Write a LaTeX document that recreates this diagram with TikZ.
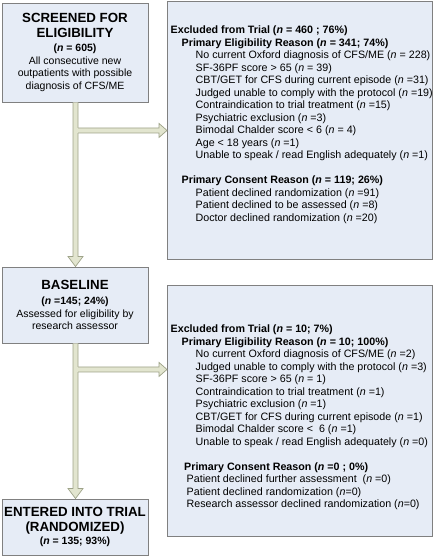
\documentclass[tikz,border=0pt]{standalone}
\usepackage{fontspec}
\setmainfont{Liberation Sans}
\usetikzlibrary{calc}
\definecolor{boxfill}{HTML}{E6ECF6}
\definecolor{boxline}{HTML}{808080}
\definecolor{arrfill}{HTML}{E2E5CF}
\definecolor{arrline}{HTML}{9EA389}
\newcommand\hdfont{\fontsize{13.3}{15}\selectfont\bfseries}
\begin{document}
\begin{tikzpicture}[x=1pt,y=-1pt,
  mainbox/.style={draw=boxline, fill=boxfill, line width=0.9pt, minimum width=146pt,
    align=center, inner sep=0pt, font=\fontsize{10.5}{12.6}\selectfont},
  sidebox/.style={draw=boxline, fill=boxfill, line width=0.9pt, anchor=north west,
    minimum width=265pt, inner sep=0pt},
  sidetext/.style={anchor=north west, inner sep=0pt, align=left,
    font=\fontsize{10.7}{12.5}\selectfont},
  arrbody/.style={fill=arrfill, draw=arrline, line width=0.7pt, line join=miter},
  arrfillonly/.style={fill=arrfill, draw=none}
]
\useasboundingbox (0,0) rectangle (434,556);

% left boxes
\node[mainbox, minimum height=99pt] (s1) at (75,52.5)
  {{\hdfont SCREENED FOR}\\[2.3pt]{\hdfont ELIGIBILITY}\\[1.3pt]
   \textbf{(\textit{n} = 605)}\\All consecutive new\\outpatients with possible\\diagnosis of CFS/ME};
\node[mainbox, minimum height=76pt] (b1) at (75,305)
  {{\hdfont BASELINE}\\[2.3pt]\textbf{(\textit{n} =145; 24\%)}\\Assessed for eligibility by\\research assessor};
\node[mainbox, minimum height=56pt] (t1) at (75,527)
  {{\hdfont ENTERED INTO TRIAL}\\[2.3pt]{\hdfont (RANDOMIZED)}\\[1.3pt]\textbf{(\textit{n} = 135; 93\%)}};

% right boxes
\node[sidebox, minimum height=258pt] (ex1) at (167,1) {};
\node[sidebox, minimum height=251pt] (ex2) at (167,285) {};

\node[sidetext] (ex1t) at (170.5,25.8)
  {\textbf{Excluded from Trial (\textit{n} = 460 ; 76\%)}\\
   \hspace*{11pt}\textbf{Primary Eligibility Reason (\textit{n} = 341; 74\%)}\\
   \hspace*{25pt}No current Oxford diagnosis of CFS/ME (\textit{n} = 228)\\
   \hspace*{25pt}SF-36PF score > 65 (\textit{n} = 39)\\
   \hspace*{25pt}CBT/GET for CFS during current episode (\textit{n} =31)\\
   \hspace*{25pt}Judged unable to comply with the protocol (\textit{n} =19)\\
   \hspace*{25pt}Contraindication to trial treatment (\textit{n} =15)\\
   \hspace*{25pt}Psychiatric exclusion (\textit{n} =3)\\
   \hspace*{25pt}Bimodal Chalder score < 6 (\textit{n} = 4)\\
   \hspace*{25pt}Age < 18 years (\textit{n} =1)\\
   \hspace*{25pt}Unable to speak / read English adequately (\textit{n} =1)\\
   \strut\\
   \hspace*{11pt}\textbf{Primary Consent Reason (\textit{n} = 119; 26\%)}\\
   \hspace*{25pt}Patient declined randomization (\textit{n} =91)\\
   \hspace*{25pt}Patient declined to be assessed (\textit{n} =8)\\
   \hspace*{25pt}Doctor declined randomization (\textit{n} =20)};

\node[sidetext] (ex2t) at (170.5,324.8)
  {\textbf{Excluded from Trial (\textit{n} = 10; 7\%)}\\
   \hspace*{11pt}\textbf{Primary Eligibility Reason (\textit{n} = 10; 100\%)}\\
   \hspace*{25pt}No current Oxford diagnosis of CFS/ME (\textit{n} =2)\\
   \hspace*{25pt}Judged unable to comply with the protocol (\textit{n} =3)\\
   \hspace*{25pt}SF-36PF score > 65 (\textit{n} = 1)\\
   \hspace*{25pt}Contraindication to trial treatment (\textit{n} =1)\\
   \hspace*{25pt}Psychiatric exclusion (\textit{n} =1)\\
   \hspace*{25pt}CBT/GET for CFS during current episode (\textit{n} =1)\\
   \hspace*{25pt}Bimodal Chalder score <\ \ 6 (\textit{n} =1)\\
   \hspace*{25pt}Unable to speak / read English adequately (\textit{n} =0)\\
   \strut\\
   \hspace*{13.5pt}\textbf{Primary Consent Reason (\textit{n} =0 ; 0\%)}\\
   \hspace*{16pt}Patient declined further assessment\ \ (\textit{n} =0)\\
   \hspace*{16pt}Patient declined randomization (\textit{n}=0)\\
   \hspace*{16pt}Research assessor declined randomization (\textit{n}=0)};

% junction coordinates
\coordinate (j1) at ($(s1.south)+(0.5,28)$);
\coordinate (j2) at ($(b1.south)+(0.5,26)$);

% vertical block arrow 1
\draw[arrbody] ($(s1.south)+(-2,0)$) -- ($(b1.north)+(-2,-10)$) -- ($(b1.north)+(-7,-10)$)
  -- ($(b1.north)+(0.5,0)$) -- ($(b1.north)+(8,-10)$) -- ($(b1.north)+(3,-10)$)
  -- ($(s1.south)+(3,0)$);
% horizontal block arrow 1
\fill[arrfillonly] ($(j1)+(0,-2.5)$) rectangle ($(j1 -| ex1.west)+(-8,2.5)$);
\draw[arrbody] ($(j1)+(2.5,-2.5)$) -- ($(j1 -| ex1.west)+(-8,-2.5)$) -- ($(j1 -| ex1.west)+(-8,-7)$)
  -- (j1 -| ex1.west) -- ($(j1 -| ex1.west)+(-8,7)$) -- ($(j1 -| ex1.west)+(-8,2.5)$)
  -- ($(j1)+(2.5,2.5)$);

% vertical block arrow 2
\draw[arrbody] ($(b1.south)+(-2,0)$) -- ($(t1.north)+(-2,-10)$) -- ($(t1.north)+(-7,-10)$)
  -- ($(t1.north)+(0.5,0)$) -- ($(t1.north)+(8,-10)$) -- ($(t1.north)+(3,-10)$)
  -- ($(b1.south)+(3,0)$);
% horizontal block arrow 2
\fill[arrfillonly] ($(j2)+(0,-2.5)$) rectangle ($(j2 -| ex2.west)+(-8,2.5)$);
\draw[arrbody] ($(j2)+(2.5,-2.5)$) -- ($(j2 -| ex2.west)+(-8,-2.5)$) -- ($(j2 -| ex2.west)+(-8,-7)$)
  -- (j2 -| ex2.west) -- ($(j2 -| ex2.west)+(-8,7)$) -- ($(j2 -| ex2.west)+(-8,2.5)$)
  -- ($(j2)+(2.5,2.5)$);
\end{tikzpicture}
\end{document}
